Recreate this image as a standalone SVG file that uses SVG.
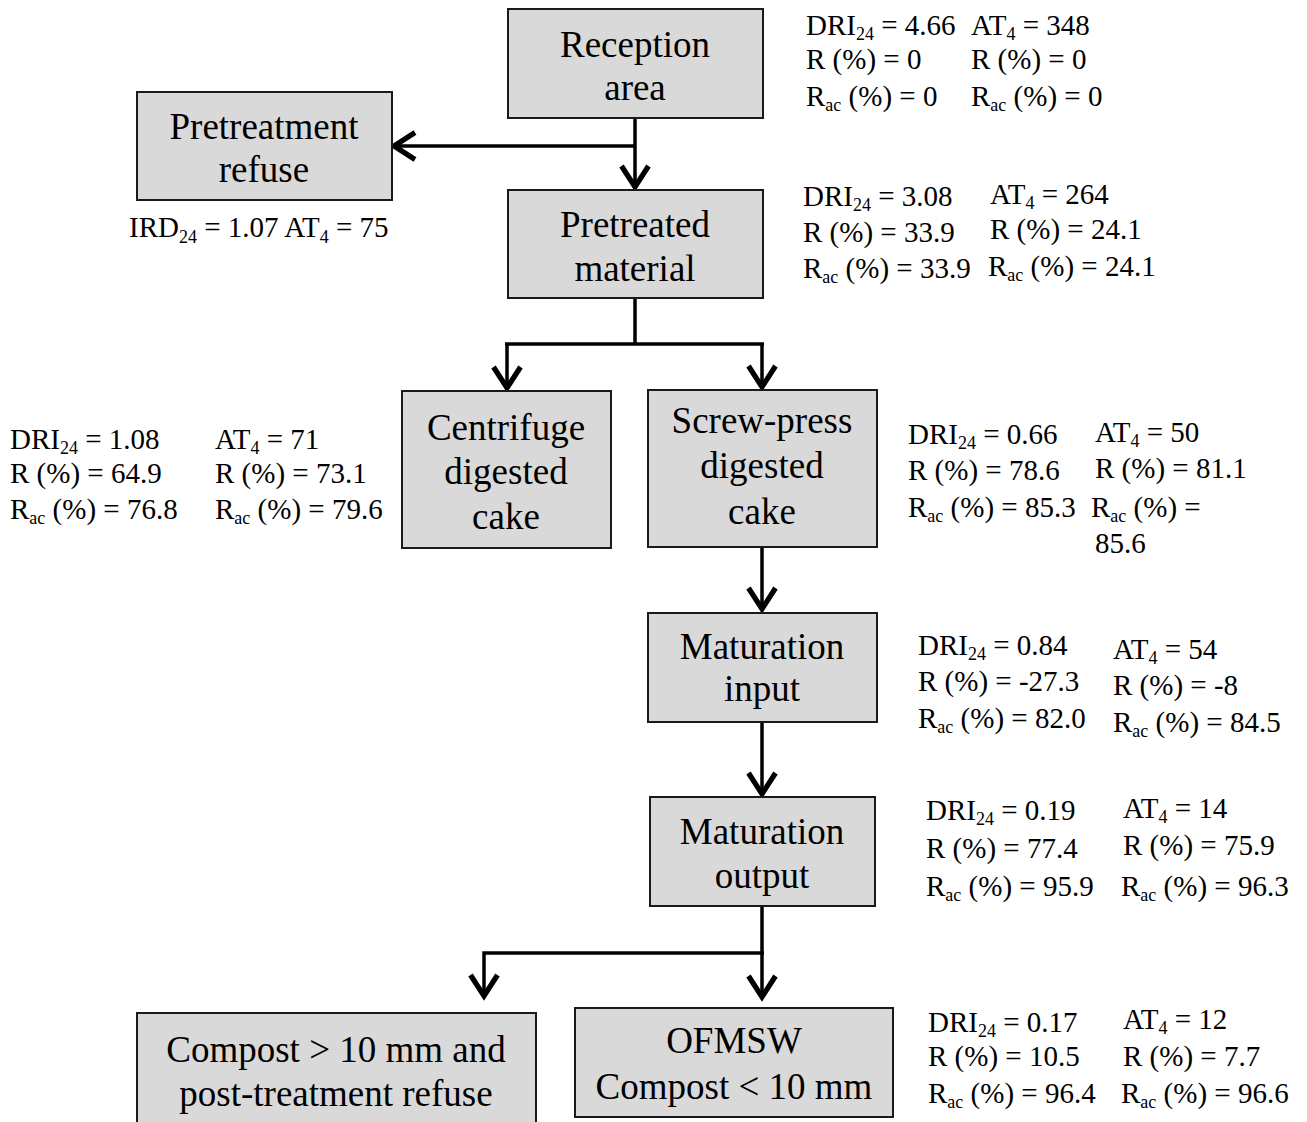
<svg xmlns="http://www.w3.org/2000/svg" width="1307" height="1122" viewBox="0 0 1307 1122">
<defs>
<style>
.box{fill:#d9d9d9;stroke:#1a1a1a;stroke-width:2}
.lbl{font-family:"Liberation Serif","Times New Roman",serif;font-size:37px;fill:#000;text-anchor:middle}
.st{font-family:"Liberation Serif","Times New Roman",serif;font-size:29px;fill:#000}
.sub{font-size:18px}
.ln{fill:none;stroke:#000;stroke-width:3.5}
</style>
<marker id="ah" markerUnits="userSpaceOnUse" markerWidth="30" markerHeight="30" viewBox="-16 -10 18 20" refX="0" refY="0" orient="auto" overflow="visible">
<path d="M-14,-9 L0,0 L-14,9" fill="none" stroke="#000" stroke-width="3.5"/>
</marker>
</defs>
<rect width="1307" height="1122" fill="#fff"/>

<g id="connectors">
<path class="ln" d="M635,118 V187" marker-end="url(#ah)"/>
<path class="ln" d="M635,146 H394" marker-end="url(#ah)"/>
<path class="ln" d="M635,298 V344"/>
<path class="ln" d="M505,344 H764"/>
<path class="ln" d="M507,344 V388" marker-end="url(#ah)"/>
<path class="ln" d="M762,344 V387" marker-end="url(#ah)"/>
<path class="ln" d="M762,548 V609" marker-end="url(#ah)"/>
<path class="ln" d="M762,722 V794" marker-end="url(#ah)"/>
<path class="ln" d="M762,906 V997" marker-end="url(#ah)"/>
<path class="ln" d="M764,953 H484 V996" marker-end="url(#ah)"/>
</g>

<g id="reception">
<rect class="box" x="508" y="9" width="255" height="109"/>
<text class="lbl" x="635" y="57">Reception</text>
<text class="lbl" x="635" y="100">area</text>
<text class="st" x="806" y="35">DRI<tspan class="sub" dy="5">24</tspan><tspan dy="-5"> = 4.66</tspan></text>
<text class="st" x="971" y="35">AT<tspan class="sub" dy="5">4</tspan><tspan dy="-5"> = 348</tspan></text>
<text class="st" x="806" y="69">R (%) = 0</text>
<text class="st" x="971" y="69">R (%) = 0</text>
<text class="st" x="806" y="106">R<tspan class="sub" dy="5">ac</tspan><tspan dy="-5"> (%) = 0</tspan></text>
<text class="st" x="971" y="106">R<tspan class="sub" dy="5">ac</tspan><tspan dy="-5"> (%) = 0</tspan></text>
</g>

<g id="pretreatment-refuse">
<rect class="box" x="137" y="92" width="255" height="108"/>
<text class="lbl" x="264" y="139">Pretreatment</text>
<text class="lbl" x="264" y="182">refuse</text>
<text class="st" x="129" y="237">IRD<tspan class="sub" dy="6">24</tspan><tspan dy="-6"> = 1.07 AT</tspan><tspan class="sub" dy="6">4</tspan><tspan dy="-6"> = 75</tspan></text>
</g>

<g id="pretreated">
<rect class="box" x="508" y="190" width="255" height="108"/>
<text class="lbl" x="635" y="237">Pretreated</text>
<text class="lbl" x="635" y="281">material</text>
<text class="st" x="803" y="206">DRI<tspan class="sub" dy="5">24</tspan><tspan dy="-5"> = 3.08</tspan></text>
<text class="st" x="990" y="204">AT<tspan class="sub" dy="5">4</tspan><tspan dy="-5"> = 264</tspan></text>
<text class="st" x="803" y="242">R (%) = 33.9</text>
<text class="st" x="990" y="239">R (%) = 24.1</text>
<text class="st" x="803" y="278">R<tspan class="sub" dy="5">ac</tspan><tspan dy="-5"> (%) = 33.9</tspan></text>
<text class="st" x="988" y="276">R<tspan class="sub" dy="5">ac</tspan><tspan dy="-5"> (%) = 24.1</tspan></text>
</g>

<g id="centrifuge">
<rect class="box" x="402" y="391" width="209" height="157"/>
<text class="lbl" x="506" y="440">Centrifuge</text>
<text class="lbl" x="506" y="484">digested</text>
<text class="lbl" x="506" y="529">cake</text>
<text class="st" x="10" y="449">DRI<tspan class="sub" dy="5">24</tspan><tspan dy="-5"> = 1.08</tspan></text>
<text class="st" x="215" y="449">AT<tspan class="sub" dy="5">4</tspan><tspan dy="-5"> = 71</tspan></text>
<text class="st" x="10" y="483">R (%) = 64.9</text>
<text class="st" x="215" y="483">R (%) = 73.1</text>
<text class="st" x="10" y="519">R<tspan class="sub" dy="5">ac</tspan><tspan dy="-5"> (%) = 76.8</tspan></text>
<text class="st" x="215" y="519">R<tspan class="sub" dy="5">ac</tspan><tspan dy="-5"> (%) = 79.6</tspan></text>
</g>

<g id="screw-press">
<rect class="box" x="648" y="390" width="229" height="157"/>
<text class="lbl" x="762" y="433">Screw-press</text>
<text class="lbl" x="762" y="478">digested</text>
<text class="lbl" x="762" y="524">cake</text>
<text class="st" x="908" y="444">DRI<tspan class="sub" dy="5">24</tspan><tspan dy="-5"> = 0.66</tspan></text>
<text class="st" x="1095" y="442">AT<tspan class="sub" dy="5">4</tspan><tspan dy="-5"> = 50</tspan></text>
<text class="st" x="908" y="480">R (%) = 78.6</text>
<text class="st" x="1095" y="478">R (%) = 81.1</text>
<text class="st" x="908" y="517">R<tspan class="sub" dy="5">ac</tspan><tspan dy="-5"> (%) = 85.3</tspan></text>
<text class="st" x="1091" y="517">R<tspan class="sub" dy="5">ac</tspan><tspan dy="-5"> (%) =</tspan></text>
<text class="st" x="1095" y="553">85.6</text>
</g>

<g id="maturation-input">
<rect class="box" x="648" y="613" width="229" height="109"/>
<text class="lbl" x="762" y="659">Maturation</text>
<text class="lbl" x="762" y="701">input</text>
<text class="st" x="918" y="655">DRI<tspan class="sub" dy="5">24</tspan><tspan dy="-5"> = 0.84</tspan></text>
<text class="st" x="1113" y="659">AT<tspan class="sub" dy="5">4</tspan><tspan dy="-5"> = 54</tspan></text>
<text class="st" x="918" y="691">R (%) = -27.3</text>
<text class="st" x="1113" y="695">R (%) = -8</text>
<text class="st" x="918" y="728">R<tspan class="sub" dy="5">ac</tspan><tspan dy="-5"> (%) = 82.0</tspan></text>
<text class="st" x="1113" y="732">R<tspan class="sub" dy="5">ac</tspan><tspan dy="-5"> (%) = 84.5</tspan></text>
</g>

<g id="maturation-output">
<rect class="box" x="650" y="797" width="225" height="109"/>
<text class="lbl" x="762" y="844">Maturation</text>
<text class="lbl" x="762" y="888">output</text>
<text class="st" x="926" y="820">DRI<tspan class="sub" dy="5">24</tspan><tspan dy="-5"> = 0.19</tspan></text>
<text class="st" x="1123" y="818">AT<tspan class="sub" dy="5">4</tspan><tspan dy="-5"> = 14</tspan></text>
<text class="st" x="926" y="858">R (%) = 77.4</text>
<text class="st" x="1123" y="855">R (%) = 75.9</text>
<text class="st" x="926" y="896">R<tspan class="sub" dy="5">ac</tspan><tspan dy="-5"> (%) = 95.9</tspan></text>
<text class="st" x="1121" y="896">R<tspan class="sub" dy="5">ac</tspan><tspan dy="-5"> (%) = 96.3</tspan></text>
</g>

<g id="compost-large">
<rect class="box" x="137" y="1013" width="399" height="115"/>
<text class="lbl" x="336" y="1062">Compost &gt; 10 mm and</text>
<text class="lbl" x="336" y="1106">post-treatment refuse</text>
</g>

<g id="ofmsw">
<rect class="box" x="575" y="1008" width="318" height="109"/>
<text class="lbl" x="734" y="1053">OFMSW</text>
<text class="lbl" x="734" y="1099">Compost &lt; 10 mm</text>
<text class="st" x="928" y="1032">DRI<tspan class="sub" dy="5">24</tspan><tspan dy="-5"> = 0.17</tspan></text>
<text class="st" x="1123" y="1029">AT<tspan class="sub" dy="5">4</tspan><tspan dy="-5"> = 12</tspan></text>
<text class="st" x="928" y="1066">R (%) = 10.5</text>
<text class="st" x="1123" y="1066">R (%) = 7.7</text>
<text class="st" x="928" y="1103">R<tspan class="sub" dy="5">ac</tspan><tspan dy="-5"> (%) = 96.4</tspan></text>
<text class="st" x="1121" y="1103">R<tspan class="sub" dy="5">ac</tspan><tspan dy="-5"> (%) = 96.6</tspan></text>
</g>
</svg>
